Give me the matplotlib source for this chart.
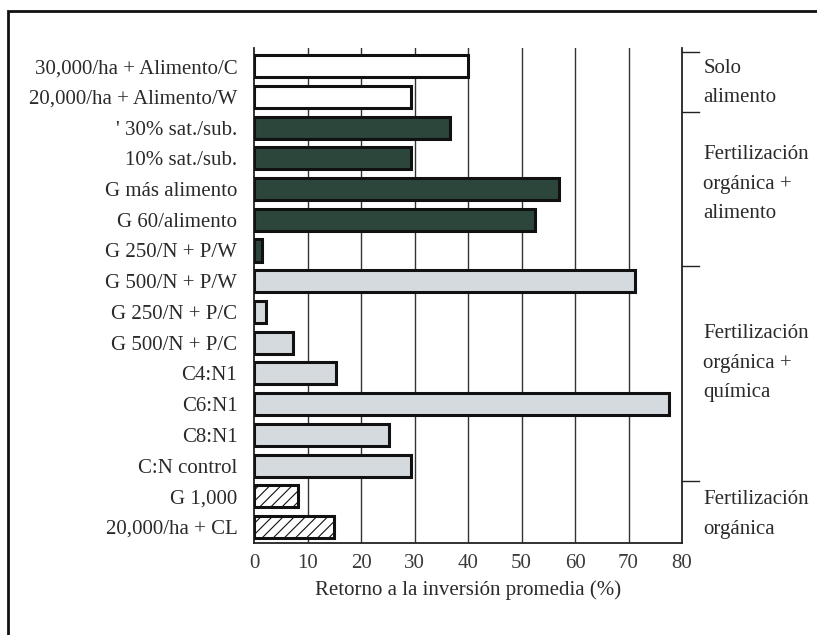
import matplotlib
matplotlib.use("Agg")
import matplotlib.pyplot as plt
from matplotlib.patches import Rectangle

plt.rcParams["font.family"] = ["Liberation Serif", "DejaVu Serif"]

# ---- data ----
labels = ["30,000/ha + Alimento/C", "20,000/ha + Alimento/W", "' 30% sat./sub.",
          "10% sat./sub.", "G más alimento", "G 60/alimento", "G 250/N + P/W",
          "G 500/N + P/W", "G 250/N + P/C", "G 500/N + P/C", "C4:N1", "C6:N1",
          "C8:N1", "C:N control", "G 1,000", "20,000/ha + CL"]
values = [40.0, 29.4, 36.7, 29.4, 57.0, 52.6, 1.5, 71.3, 2.2, 7.2,
          15.4, 77.6, 25.3, 29.4, 8.3, 15.0]
groups = ["food", "food", "org_food", "org_food", "org_food", "org_food", "org_food",
          "org_chem", "org_chem", "org_chem", "org_chem", "org_chem", "org_chem", "org_chem",
          "org", "org"]
group_names = ["Solo\nalimento", "Fertilización\norgánica +\nalimento",
               "Fertilización\norgánica +\nquímica", "Fertilización\norgánica"]
xticks = [0, 10, 20, 30, 40, 50, 60, 70, 80]

styles = {
    "food": dict(color="white", hatch=None),
    "org_food": dict(color="#2c463b", hatch=None),
    "org_chem": dict(color="#d5dadf", hatch=None),
    "org": dict(color="white", hatch="///"),
}
TXT = "#2a2a2a"
FS = 15

fig = plt.figure(figsize=(8.17, 6.35), dpi=100)
ax = fig.add_axes([254 / 817, 1 - 543 / 635, 428 / 817, 495 / 635])

plt.rcParams["hatch.color"] = "#555555"
plt.rcParams["hatch.linewidth"] = 0.8
for i, (v, g) in enumerate(zip(values, groups)):
    st = styles[g]
    ax.barh(i, v, height=0.72, color=st["color"], hatch=st["hatch"],
            edgecolor="#111111", linewidth=2.2, zorder=3)

ax.set_ylim(15.52, -0.59)
ax.set_xlim(0, 80)
ax.set_yticks(range(len(labels)))
ax.set_yticklabels(labels, fontsize=FS, color=TXT)
ax.set_xticks(xticks)
ax.set_xticklabels([str(t) for t in xticks], fontsize=FS, color="#3a3a3a")
ax.tick_params(axis="both", length=0)
ax.tick_params(axis="y", pad=12)
ax.tick_params(axis="x", pad=8)
ax.set_xlabel("Retorno a la inversión promedia (%)", fontsize=FS, color=TXT, labelpad=5)

for t in xticks[1:-1]:
    ax.axvline(t, color="#333333", linewidth=1.0, zorder=1)

ax.spines["top"].set_visible(False)
for s in ["left", "bottom", "right"]:
    ax.spines[s].set_linewidth(1.3)
    ax.spines[s].set_color("#222222")

# bracket ticks on the right side
boundaries = [-0.45, 1.5, 6.5, 13.5]
for b in boundaries:
    ax.plot([80, 83.2], [b, b], color="#222222", linewidth=1.0, clip_on=False)

group_centers = [0.55, 3.85, 9.67, 14.6]
for name, c in zip(group_names, group_centers):
    ax.text(84.0, c, name, fontsize=FS, va="center", ha="left",
            linespacing=1.75, color=TXT, clip_on=False)

# outer frame
fig.patches.append(Rectangle((8 / 817, -0.1), 1.5, 1 - 11 / 635 + 0.1,
                             transform=fig.transFigure, fill=False,
                             edgecolor="#111111", linewidth=2))

fig.savefig("out.png", dpi=100, facecolor="white")
